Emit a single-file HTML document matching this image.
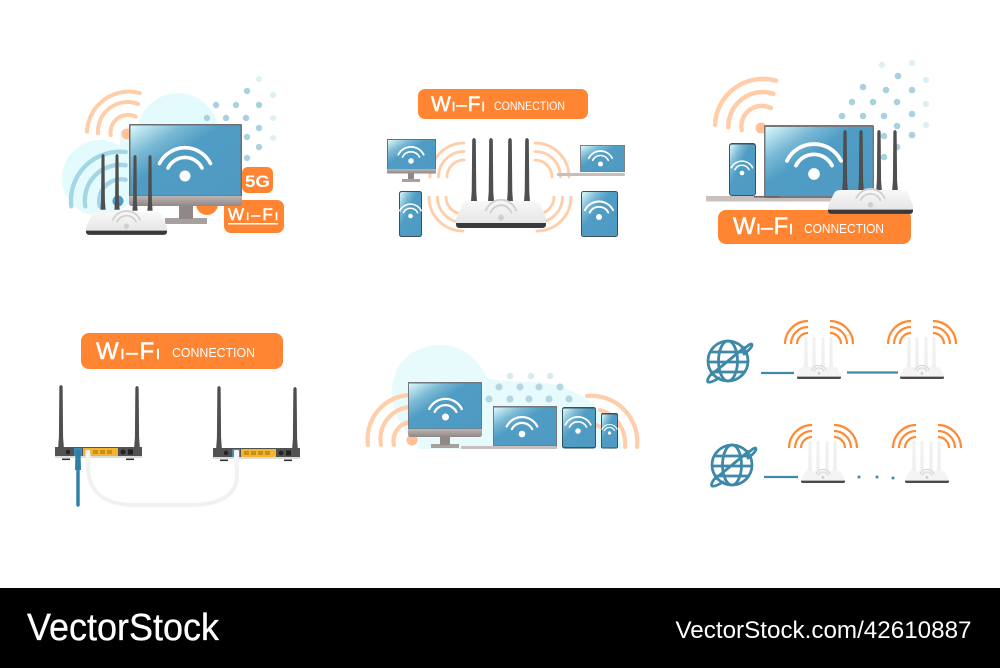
<!DOCTYPE html>
<html><head><meta charset="utf-8"><style>
html,body{margin:0;padding:0;background:#fff}
svg{display:block}
text{font-family:"Liberation Sans",sans-serif}
.o{fill:none;stroke:#ffcda8;stroke-linecap:round}
.r{fill:none;stroke:#ff8a33;stroke-width:2.2}
.t{fill:#fff}
.g{fill:none;stroke:#3e88a8;stroke-width:2.8}
</style></head><body>
<svg width="1000" height="668" viewBox="0 0 1000 668" xmlns="http://www.w3.org/2000/svg">
<defs>
<linearGradient id="sc" x1="0" y1="0" x2="1" y2="1"><stop offset="0" stop-color="#dcf9fc"/><stop offset=".24" stop-color="#7ab9d5"/><stop offset=".42" stop-color="#4f9cc4"/><stop offset="1" stop-color="#4f9ac2"/></linearGradient>
<linearGradient id="bz" x1="0" y1="0" x2="0" y2="1"><stop offset="0" stop-color="#bdb5b3"/><stop offset="1" stop-color="#8f8886"/></linearGradient>
<linearGradient id="rb" x1="0" y1="0" x2="0" y2="1"><stop offset="0" stop-color="#f8f8f8"/><stop offset="1" stop-color="#e6e6e6"/></linearGradient>
<g id="w"><circle r="5.5" cx="0" cy="0" fill="#fff"/><path d="M-25.5-12.5A28.5 28.5 0 0 1 25.5-12.5M-17-8A19 19 0 0 1 17-8" fill="none" stroke="#fff" stroke-width="3.6" stroke-linecap="round"/></g>
<g id="wg"><circle r="5.5" fill="#cfcfcf"/><path d="M-29-13A32 32 0 0 1 29-13M-20-9A22 22 0 0 1 20-9" fill="none" stroke="#d0d0d0" stroke-width="3.6" stroke-linecap="round"/></g>
<g id="a"><path d="M-1.5 1.500Q0-1.500 1.500 1.500L1.900 50L2.600 60H-2.600L-1.900 50Z" fill="#4f4f50"/></g>
<g id="al"><path d="M-1.500 1.500Q0-1.500 1.500 1.500L1.900 50L2.600 60H-2.600L-1.900 50Z" fill="#f0f0f0"/></g>
<g id="r"><path d="M14 0H88Q92 0 94 4L100 18V23H0V18L7 4Q9 0 14 0Z" fill="url(#rb)"/><path d="M0 22.500H100V24Q100 27.500 96 27.500H4Q0 27.500 0 24Z" fill="#3a3a3c"/><use href="#wg" transform="translate(50 17) scale(.58)"/></g>
<g id="rs"><path d="M15 0H86Q91 0 93 5L100 18V22H0V18L8 5Q10 0 15 0Z" fill="#f4f4f4"/><path d="M0 21H100V23Q100 26 96 26H4Q0 26 0 23Z" fill="#4a4a4c"/><use href="#wg" transform="translate(50 14) scale(.55)"/></g>
<g id="back"><rect x="0" y="0" width="87" height="10" fill="#525254"/><rect x="0" y="9" width="87" height="2" fill="#dcdcdc"/><rect x="28" y="1" width="35" height="8" fill="#f2b52e"/><g fill="#c98f16"><rect x="31" y="3" width="5" height="4"/><rect x="38" y="3" width="5" height="4"/><rect x="45" y="3" width="5" height="4"/><rect x="52" y="3" width="5" height="4"/></g><circle cx="13" cy="5" r="2.200" fill="#222"/><circle cx="68" cy="5" r="2.400" fill="#222"/><rect x="73" y="2.500" width="5" height="5" fill="#222"/><rect x="7" y="11.500" width="8" height="1.600" fill="#333"/><rect x="71" y="11.500" width="8" height="1.600" fill="#333"/><rect x="19" y="1" width="8" height="8" fill="#3e8eb4"/></g>
<g id="gl"><circle r="20" class="g"/><ellipse rx="9.500" ry="20" class="g"/><path d="M-17-9H17M-20 1H20M-16 11H16M-17 14L17-14" class="g"/><path d="M17-13Q24-19 24-16Q24-13 16-7M-16 12Q-22 19-20 21Q-17 22-9 17" class="g" stroke-linecap="round"/></g>
<g id="rw"><path d="M-34 0A23 23 0 0 1-11-23M-28 0A17 17 0 0 1-11-17M-22 0A11 11 0 0 1-11-11M34 0A23 23 0 0 0 11-23M28 0A17 17 0 0 0 11-17M22 0A11 11 0 0 0 11-11" class="r"/></g>
</defs>

<rect width="1000" height="668" fill="#fff"/>

<!-- Panel 1 -->
<g fill="#e4fbfd"><circle cx="100" cy="178" r="38"/><circle cx="178" cy="134" r="41"/><rect x="120" y="130" width="100" height="70"/></g>
<g fill="#dff0f5"><circle cx="259" cy="79" r="3"/><circle cx="273" cy="95" r="3"/><circle cx="273" cy="118" r="3"/><circle cx="273" cy="138" r="3"/></g>
<g fill="#a9d2e1"><circle cx="247" cy="91" r="3.200"/><circle cx="216" cy="105" r="3.200"/><circle cx="236" cy="105" r="3.200"/><circle cx="259" cy="105" r="3.200"/><circle cx="207" cy="118" r="3.200"/><circle cx="226" cy="118" r="3.200"/><circle cx="246" cy="118" r="3.200"/><circle cx="259" cy="128" r="3.200"/><circle cx="247" cy="137" r="3.200"/><circle cx="259" cy="147" r="3.200"/><circle cx="247" cy="158" r="3.200"/></g>
<path d="M87 131.700A42 42 0 0 1 139.700 93M98 133.300A29.500 29.500 0 0 1 138 104M110.700 135A17.500 17.500 0 0 1 135.700 116.700" class="o" stroke-width="4"/>
<circle cx="127" cy="134" r="5.500" fill="#ffc195"/>
<path d="M71.300 206.300A49 49 0 0 1 125.700 152M85.300 206.300A35.500 35.500 0 0 1 125.700 165.300M99.700 206.300A22 22 0 0 1 125.700 179.700" fill="none" stroke="#a5d6e6" stroke-width="4.400" stroke-linecap="round"/>
<circle cx="118" cy="201" r="5.500" fill="#4f9cc4"/>
<rect x="242" y="167" width="31" height="26" rx="6" fill="#ff8533"/>
<circle cx="207" cy="204" r="11" fill="#ff8533"/>
<rect x="224" y="200" width="60" height="33" rx="7" fill="#ff8533"/>
<rect x="165" y="218" width="42" height="6" fill="#a8a09e"/>
<rect x="179" y="205" width="14" height="14" fill="#8f8886"/>
<rect x="129" y="124" width="113" height="73" rx="1" fill="#6f6f72"/>
<rect x="130.500" y="125.500" width="110" height="70" fill="url(#sc)"/>
<path d="M129 196H242V203Q242 206 239 206H132Q129 206 129 203Z" fill="url(#bz)"/>
<use href="#w" transform="translate(185 176)"/>
<use href="#a" transform="translate(103 154) scale(1 .93)"/><use href="#a" transform="translate(117 154) scale(1 .93)"/><use href="#a" transform="translate(135 155) scale(1 .93)"/><use href="#a" transform="translate(150 155) scale(1 .93)"/>
<use href="#r" transform="translate(86 212) scale(.81 .83)"/>
<text x="245" y="187" font-size="17" font-weight="700" class="t" textLength="25" lengthAdjust="spacingAndGlyphs">5G</text>
<text x="228" y="220" class="t" textLength="50" lengthAdjust="spacing" stroke="#fff" stroke-width=".5"><tspan font-size="17">W</tspan><tspan font-size="11">I</tspan><tspan font-size="16">–</tspan><tspan font-size="17">F</tspan><tspan font-size="11">I</tspan></text>
<rect x="228" y="223" width="50" height="1.500" fill="#fff"/>

<!-- Panel 2 -->
<rect x="418" y="89" width="170" height="30" rx="7" fill="#ff8533"/>
<text x="431" y="111" class="t" textLength="54" lengthAdjust="spacing" stroke="#fff" stroke-width=".5"><tspan font-size="21">W</tspan><tspan font-size="13">I</tspan><tspan font-size="19">–</tspan><tspan font-size="21">F</tspan><tspan font-size="13">I</tspan></text>
<text x="494" y="110" font-size="11.500" class="t" textLength="71" lengthAdjust="spacingAndGlyphs">CONNECTION</text>
<path d="M430 177A34 34 0 0 1 464 143M438.500 177A25.500 25.500 0 0 1 464 151.500M447 177A17 17 0 0 1 464 160M569 177A34 34 0 0 0 535 143M560.500 177A25.500 25.500 0 0 0 535 151.500M552 177A17 17 0 0 0 535 160M429 197A34 34 0 0 0 463 231M437.500 197A25.500 25.500 0 0 0 463 222.500M446 197A17 17 0 0 0 463 214M571 197A34 34 0 0 1 537 231M562.500 197A25.500 25.500 0 0 1 537 222.500M554 197A17 17 0 0 1 537 214" class="o" stroke-width="2.800"/>
<rect x="387" y="139" width="49" height="32" fill="#6f6f72"/><rect x="388" y="140" width="47" height="29" fill="url(#sc)"/><rect x="387" y="169" width="49" height="4.500" fill="url(#bz)"/><rect x="408" y="173" width="6" height="6" fill="#8f8886"/><rect x="402" y="179" width="18" height="3" fill="#a8a09e"/>
<use href="#w" transform="translate(411 161) scale(.5)"/>
<rect x="399" y="191" width="23" height="46" rx="2.500" fill="#3d4e5c"/><rect x="400" y="192" width="21" height="44" rx="2" fill="url(#sc)"/>
<use href="#w" transform="translate(410.500 216) scale(.42)"/>
<rect x="580" y="145" width="45" height="27" fill="#808084"/><rect x="581" y="146" width="43" height="25" fill="url(#sc)"/><rect x="557" y="173" width="68" height="3" rx="1" fill="#c7bfbc"/>
<use href="#w" transform="translate(600.500 164) scale(.46)"/>
<rect x="581" y="191" width="37" height="46" rx="2.500" fill="#3d4e5c"/><rect x="582" y="192" width="35" height="44" rx="1.500" fill="url(#sc)"/>
<use href="#w" transform="translate(599 217) scale(.55)"/>
<use href="#a" transform="translate(474 138) scale(1.200 1.080)"/><use href="#a" transform="translate(491 138) scale(1.200 1.080)"/><use href="#a" transform="translate(510 138) scale(1.200 1.080)"/><use href="#a" transform="translate(527 138) scale(1.200 1.080)"/>
<use href="#r" transform="translate(456 201) scale(.9 .98)"/>

<!-- Panel 3 -->
<g fill="#dff0f5"><circle cx="882" cy="65" r="3.200"/><circle cx="912" cy="63" r="3.200"/><circle cx="926" cy="80" r="3.200"/><circle cx="926" cy="104" r="3.200"/><circle cx="926" cy="125" r="3.200"/></g>
<g fill="#a9d2e1"><circle cx="898" cy="76" r="3.300"/><circle cx="863" cy="87" r="3.300"/><circle cx="886" cy="90" r="3.300"/><circle cx="912" cy="90" r="3.300"/><circle cx="852" cy="102" r="3.300"/><circle cx="873" cy="102" r="3.300"/><circle cx="897" cy="102" r="3.300"/><circle cx="842" cy="116" r="3.300"/><circle cx="863" cy="116" r="3.300"/><circle cx="884" cy="116" r="3.300"/><circle cx="912" cy="114" r="3.300"/><circle cx="897" cy="126" r="3.300"/><circle cx="912" cy="135" r="3.300"/><circle cx="884" cy="136" r="3.300"/><circle cx="897" cy="147" r="3.300"/><circle cx="884" cy="157" r="3.300"/></g>
<path d="M715 124.700A48 48 0 0 1 776 80.700M728.300 127.300A34.500 34.500 0 0 1 773.300 93.700M741.700 130A20.500 20.500 0 0 1 771 108" class="o" stroke-width="4.500"/>
<circle cx="761" cy="128" r="5.500" fill="#ffc195"/>
<rect x="706" y="196" width="130" height="5.500" rx="1" fill="#c9c1be"/>
<rect x="729" y="143" width="27" height="53" rx="3" fill="#3d4e5c"/><rect x="730" y="144.500" width="25" height="50.500" rx="2" fill="url(#sc)"/>
<use href="#w" transform="translate(742 173) scale(.42)"/>
<rect x="764" y="125" width="110" height="73" rx="1.500" fill="#77777b"/><rect x="765.500" y="127" width="107" height="69" fill="url(#sc)"/><rect x="754" y="196" width="26" height="1.500" fill="#6b6361"/>
<use href="#w" transform="translate(814 174) scale(1.060)"/>
<use href="#a" transform="translate(845 130) scale(1.100 1.010)"/><use href="#a" transform="translate(861 130) scale(1.100 1.010)"/><use href="#a" transform="translate(879 130) scale(1.100 1.010)"/><use href="#a" transform="translate(895 130) scale(1.100 1.010)"/>
<rect x="718" y="210" width="193" height="34" rx="8" fill="#ff8533"/>
<use href="#r" transform="translate(828 190) scale(.85 .87)"/>
<text x="733" y="234" class="t" textLength="60" lengthAdjust="spacing" stroke="#fff" stroke-width=".5"><tspan font-size="24">W</tspan><tspan font-size="15">I</tspan><tspan font-size="21">–</tspan><tspan font-size="24">F</tspan><tspan font-size="15">I</tspan></text>
<text x="804" y="233" font-size="12.500" class="t" textLength="80" lengthAdjust="spacingAndGlyphs">CONNECTION</text>

<!-- Panel 4 -->
<rect x="81" y="333" width="202" height="36" rx="8" fill="#ff8533"/>
<text x="96" y="359" class="t" textLength="64" lengthAdjust="spacing" stroke="#fff" stroke-width=".5"><tspan font-size="24">W</tspan><tspan font-size="15">I</tspan><tspan font-size="21">–</tspan><tspan font-size="24">F</tspan><tspan font-size="15">I</tspan></text>
<text x="172" y="357" font-size="13" class="t" textLength="83" lengthAdjust="spacingAndGlyphs">CONNECTION</text>
<use href="#a" transform="translate(61 385) scale(1.100 1.040)"/><use href="#a" transform="translate(137 386) scale(1.100 1.030)"/>
<use href="#a" transform="translate(219 386) scale(1.100 1.040)"/><use href="#a" transform="translate(295 387) scale(1.100 1.030)"/>
<use href="#back" transform="translate(55 447)"/><use href="#back" transform="translate(213 448)"/>
<path d="M88 458V470C90 495 108 505 135 505H190C220 505 237 495 237 475V458" fill="none" stroke="#f1f1f1" stroke-width="4"/>
<rect x="85.500" y="450" width="5" height="17" rx="1" fill="#f4f4f4"/><rect x="234" y="450" width="5" height="17" rx="1" fill="#f4f4f4"/>
<path d="M78 458V505" fill="none" stroke="#2f7fa6" stroke-width="3.400" stroke-linecap="round"/><path d="M75.500 450H80.500L81 470H75Z" fill="#2f7fa6"/>

<!-- Panel 5 -->
<path d="M392 392C392 362 414 345 440 345C462 345 478 358 487 378C510 384 540 378 565 388C590 398 620 420 622 449H420C403 430 392 414 392 392Z" fill="#e7fbfd"/>
<g fill="#d8ebf1"><circle cx="510" cy="376" r="3.300"/><circle cx="531" cy="376" r="3.300"/><circle cx="550" cy="376" r="3.300"/></g>
<g fill="#b4d7e3"><circle cx="499" cy="387" r="3.600"/><circle cx="520" cy="387" r="3.600"/><circle cx="539" cy="387" r="3.600"/><circle cx="560" cy="387" r="3.600"/><circle cx="489" cy="399" r="3.600"/><circle cx="510" cy="399" r="3.600"/><circle cx="529" cy="399" r="3.600"/><circle cx="549" cy="399" r="3.600"/><circle cx="569" cy="399" r="3.600"/></g>
<path d="M368 445A44 44 0 0 1 410 395M381 445A32 32 0 0 1 410 407M394 445A19 19 0 0 1 410 422" class="o" stroke-width="4.200"/>
<circle cx="412" cy="440" r="5.500" fill="#ffc195"/>
<path d="M587 396A46 46 0 0 1 637 447M600 410A35 35 0 0 1 625 447M596 425A22 22 0 0 1 611 447" class="o" stroke-width="4.200"/>
<rect x="431" y="444" width="28" height="4" fill="#a8a09e"/><rect x="440" y="435" width="10" height="10" fill="#8f8886"/>
<rect x="408" y="382" width="74" height="48" fill="#77777b"/><rect x="409" y="383.500" width="72" height="45" fill="url(#sc)"/>
<path d="M408 429H482V434Q482 437 479 437H411Q408 437 408 434Z" fill="url(#bz)"/>
<use href="#w" transform="translate(445.500 417) scale(.64)"/>
<rect x="493" y="406" width="64" height="41" fill="#77777b"/><rect x="494" y="407.500" width="62" height="38" fill="url(#sc)"/><rect x="461" y="446" width="96" height="3" rx="1" fill="#c7bfbc"/>
<use href="#w" transform="translate(522 434) scale(.6)"/>
<rect x="562" y="407" width="34" height="41.500" rx="2.500" fill="#3d4e5c"/><rect x="563" y="408.500" width="32" height="38.500" rx="1.500" fill="url(#sc)"/>
<use href="#w" transform="translate(578 431) scale(.5)"/>
<rect x="601" y="413" width="17" height="35.500" rx="2" fill="#3d4e5c"/><rect x="602" y="414.500" width="15" height="33" rx="1" fill="url(#sc)"/>
<use href="#w" transform="translate(609.500 433) scale(.3)"/>

<!-- Panel 6 -->
<use href="#gl" transform="translate(728 361)"/>
<path d="M761 373H794" stroke="#4289a8" stroke-width="2.200"/>
<path d="M847 372.500H898" stroke="#4289a8" stroke-width="2.200"/>
<use href="#gl" transform="translate(732 465)"/>
<path d="M764 477H798" stroke="#4289a8" stroke-width="2.200"/>
<g fill="#3f89ab"><circle cx="859" cy="477" r="1.500"/><circle cx="877" cy="477" r="1.500"/><circle cx="893" cy="478" r="1.500"/></g>
<g id="u1"><use href="#al" transform="translate(806 337) scale(.9 .5)"/><use href="#al" transform="translate(814 337) scale(.9 .5)"/><use href="#al" transform="translate(823 337) scale(.9 .5)"/><use href="#al" transform="translate(831 337) scale(.9 .5)"/><use href="#rs" transform="translate(797 367) scale(.44 .46)"/><use href="#rw" transform="translate(819 344)"/></g>
<use href="#u1" transform="translate(103 0)"/>
<use href="#u1" transform="translate(4 104)"/>
<use href="#u1" transform="translate(108 104)"/>

<!-- Footer -->
<rect x="0" y="588" width="1000" height="80" fill="#000"/>
<text x="27" y="640" font-size="38" fill="#fff" textLength="192" lengthAdjust="spacingAndGlyphs" stroke="#fff" stroke-width=".3">VectorStock</text>
<text x="675.500" y="638" font-size="24" fill="#fff" textLength="296" lengthAdjust="spacingAndGlyphs">VectorStock.com/42610887</text>
</svg>
</body></html>
